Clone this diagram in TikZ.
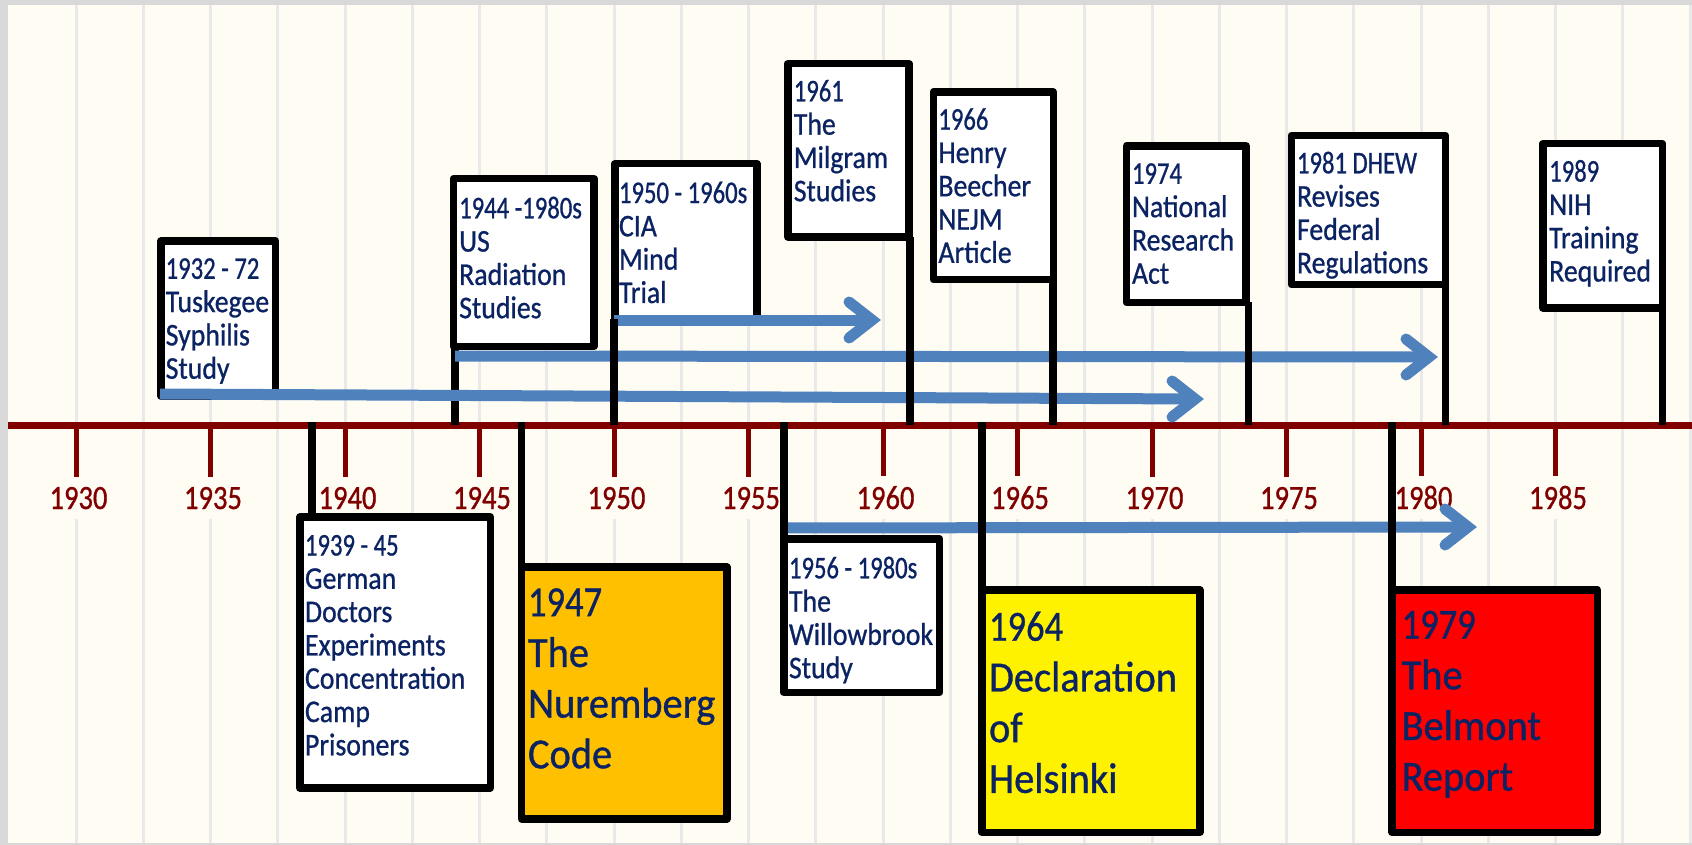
\documentclass[tikz,border=0pt]{standalone}
\usepackage{fontspec}
\usetikzlibrary{calc}
\newfontfamily\boxfam{Carlito}[FakeStretch=0.88,FakeBold=0.8]
\newfontfamily\digfam{Carlito}[FakeStretch=0.78,FakeBold=0.8]
\newfontfamily\bigfam{Carlito}[FakeStretch=0.94,FakeBold=0.8]
\newfontfamily\bigdig{Carlito}[FakeStretch=0.85,FakeBold=0.8]
\newfontfamily\yearfam{Carlito}[FakeStretch=0.84,FakeBold=0.8]
\definecolor{bg}{HTML}{FFFCF4}
\definecolor{bordergray}{HTML}{D9D9D9}
\definecolor{gridgray}{HTML}{E9E9E9}
\definecolor{axisred}{HTML}{800000}
\definecolor{navy}{HTML}{0B2362}
\definecolor{arrowblue}{HTML}{4F81BD}
\definecolor{nurem}{HTML}{FFC000}
\tikzset{
  evbox/.style={draw=black, line width=7.5pt, fill=white, rectangle, inner sep=0pt, outer sep=0pt, anchor=north west, line join=round},
  evtext/.style={anchor=north west, inner sep=0pt, outer sep=0pt, align=left, text=navy, font=\boxfam\fontsize{31.6}{33.3}\selectfont},
  bigtext/.style={evtext, font=\bigfam\fontsize{43}{50.7}\selectfont},
  stemline/.style={line width=7.5pt, draw=black},
  spanarrow/.style={line width=11pt, draw=arrowblue},
  chev/.style={line width=11pt, draw=arrowblue, line cap=round, line join=miter},
  gridln/.style={line width=3pt, draw=gridgray},
  axisline/.style={line width=7.7pt, draw=axisred},
  yeartick/.style={line width=5pt, draw=axisred},
  yearlbl/.style={text=axisred, font=\yearfam\fontsize{34}{40}\selectfont, fill=bg, inner xsep=2pt, inner ysep=10pt, anchor=base}
}
\begin{document}
\begin{tikzpicture}[x=1pt,y=-1pt]
\useasboundingbox (0,0) rectangle (1692,845);
% background
\fill[bordergray] (0,0) rectangle (1692,845);
\fill[bg] (7.5,5) rectangle (1692,843);
% grid
\foreach \k in {0,...,24} \draw[gridln] ({76+67.25*\k},5) -- ({76+67.25*\k},843);
% axis
\coordinate (axL) at (7.5,425.5);
\coordinate (axR) at (1692,425.5);
\draw[axisline] (axL) -- (axR);
\foreach \yr in {1930,1935,...,1985}{
  \draw[yeartick] ({76+(\yr-1930)*26.9},429) -- ++(0,48);
  \node[yearlbl] (y\yr) at ({78.5+(\yr-1930)*26.9},509) {\yr};
}
% stem under the 1932 arrow
\coordinate (a44) at (455,425);
% boxes above
\node[evbox, minimum width=114.9pt, minimum height=154.7pt] (b32) at (160.75,241.05) {};
\node[evbox, minimum width=140.6pt, minimum height=167.5pt] (b44) at (453.45,178.75) {};
\node[evbox, minimum width=141.8pt, minimum height=155.5pt] (b50) at (614.95,163.75) {};
\node[evbox, minimum width=121.1pt, minimum height=173.2pt] (b61) at (787.95,63.75) {};
\node[evbox, minimum width=119.9pt, minimum height=187.5pt] (b66) at (933.35,92.05) {};
\node[evbox, minimum width=119.8pt, minimum height=156.2pt] (b74) at (1126.35,146.05) {};
\node[evbox, minimum width=154.1pt, minimum height=149.1pt] (b81) at (1291.35,135.45) {};
\node[evbox, minimum width=119.8pt, minimum height=164.2pt] (b89) at (1542.75,143.75) {};
% boxes below
\node[evbox, minimum width=190.5pt, minimum height=270.9pt] (b39) at (299.75,517.05) {};
\node[evbox, fill=nurem, minimum width=205.2pt, minimum height=251.9pt] (b47) at (521.65,567.05) {};
\node[evbox, minimum width=155.9pt, minimum height=153.5pt] (b56) at (783.75,538.75) {};
\node[evbox, fill=yellow, minimum width=218pt, minimum height=242.5pt] (b64) at (981.75,589.75) {};
\node[evbox, fill=red, minimum width=205.2pt, minimum height=242.5pt] (b79) at (1392.05,589.75) {};
\draw[stemline] (a44) -- (a44 |- b44.south);
% texts
\node[evtext] (t32) at (165.7,258.3) {{\digfam 1932 - 72}\\Tuskegee\\Syphilis\\Study};
\node[evtext] (t44) at (459.2,196.7) {{\digfam 1944 -1980s}\\US\\Radiation\\Studies};
\node[evtext] (t50) at (619,181.7) {{\digfam 1950 - 1960s}\\CIA\\Mind\\Trial};
\node[evtext] (t61) at (793.8,80) {{\digfam 1961}\\The\\Milgram\\Studies};
\node[evtext] (t66) at (938.4,108.3) {{\digfam 1966}\\Henry\\Beecher\\NEJM\\Article};
\node[evtext] (t74) at (1132,163.3) {{\digfam 1974}\\National\\Research\\Act};
\node[evtext] (t81) at (1297,151.7) {{\digfam 1981 DHEW}\\Revises\\Federal\\Regulations};
\node[evtext] (t89) at (1549.2,160) {{\digfam 1989}\\NIH\\Training\\Required};
\node[evtext] (t39) at (305,535) {{\digfam 1939 - 45}\\German\\Doctors\\Experiments\\Concentration\\Camp\\Prisoners};
\node[evtext] (t56) at (789,556.7) {{\digfam 1956 - 1980s}\\The\\Willowbrook\\Study};
\node[bigtext] (t47) at (528,588.3) {{\bigdig 1947}\\The\\Nuremberg\\Code};
\node[bigtext] (t64) at (989,611.7) {{\bigdig 1964}\\Declaration\\of\\Helsinki};
\node[bigtext] (t79) at (1401.6,610.7) {{\bigdig 1979}\\The\\Belmont\\Report};
% arrows
\coordinate (p32s) at (160,394);  \coordinate (p32e) at (1195,399);
\coordinate (p44s) at (455,356);  \coordinate (p44e) at (1429,357);
\coordinate (p50s) at (614,320);  \coordinate (p50e) at (872,320);
\coordinate (p56s) at (783,528);  \coordinate (p56e) at (1468,527);
\foreach \a in {32,44,50,56}{
  \draw[spanarrow] (p\a s) -- (p\a e);
  \draw[chev] ($(p\a e)+(-23,-18)$) -- (p\a e) -- ($(p\a e)+(-23,18)$);
}
% stems
\coordinate (a50) at (614,425);
\coordinate (a61) at (910,425);
\coordinate (a66) at (1053,425);
\coordinate (a74) at (1248.5,425);
\coordinate (a81) at (1445.5,425);
\coordinate (a89) at (1662.5,425);
\coordinate (a39) at (312,422);
\coordinate (a47) at (521.5,422);
\coordinate (a56) at (784,422);
\coordinate (a64) at (981.75,422);
\coordinate (a79) at (1392,422);
\foreach \s in {50,61,66,74,81,89}{
  \draw[stemline] (a\s) -- (a\s |- b\s.south);
}
\foreach \s in {39,47,56,64,79}{
  \draw[stemline] (a\s) -- (a\s |- b\s.north);
}
\end{tikzpicture}
\end{document}
